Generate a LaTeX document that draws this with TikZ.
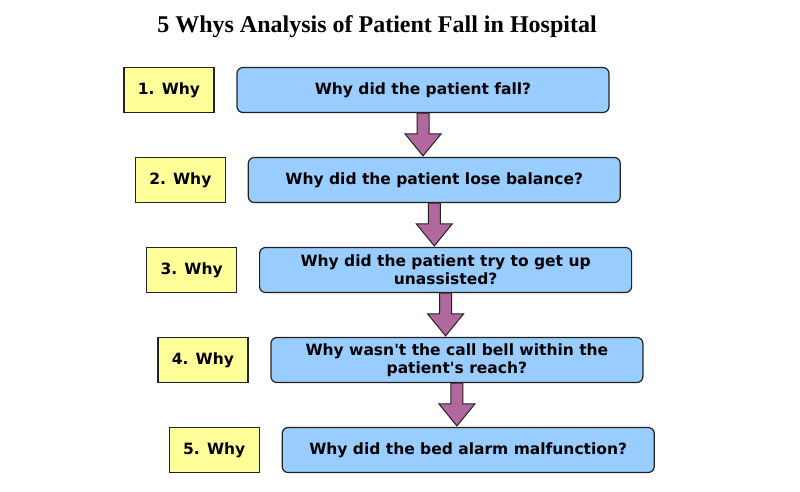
\documentclass[tikz,border=0pt]{standalone}
\usepackage{fontspec}
\setmainfont{DejaVu Sans}
\newfontfamily\titlefont{Liberation Serif}
\usetikzlibrary{positioning}
\definecolor{whyyellow}{HTML}{FFFF99}
\definecolor{qblue}{HTML}{99CCFF}
\definecolor{arrowpurple}{HTML}{B0689E}
\definecolor{edgegray}{HTML}{222222}

\begin{document}
\begin{tikzpicture}[x=1pt,y=-1pt,
	whybox/.style={draw=edgegray,fill=whyyellow,line width=1.2pt,minimum width=90pt,minimum height=45pt,font=\bfseries\fontsize{15.5}{18}\selectfont},
	qbox/.style={draw=edgegray,fill=qblue,line width=1.2pt,rounded corners=6pt,minimum width=372pt,minimum height=45pt,align=center,font=\bfseries\fontsize{15.5}{18}\selectfont},
	downarrow/.style={draw=edgegray,fill=arrowpurple,line width=1pt,line join=miter}]
	\path[use as bounding box] (0,0) rectangle (800,491);
	
	\node[font=\titlefont\bfseries\fontsize{24}{28}\selectfont] (title) at (377,27) {5 Whys Analysis of Patient Fall in Hospital};
	
	\foreach \q [count=\n] in {{Why did the patient fall?},{Why did the patient lose balance?},{Why did the patient try to get up\\unassisted?},{Why wasn\textquotesingle t the call bell within the\\patient\textquotesingle s reach?},{Why did the bed alarm malfunction?}}
	{
		\node[qbox] (Q\n) at ({423+11.3*(\n-1)},{90+90*(\n-1)}) {\q};
		\node[whybox] (W\n) at ({169+11.3*(\n-1)},{90+90*(\n-1)}) {\n. Why};
	}
	
	\foreach \n [count=\m from 2] in {1,...,4}
	{
		\coordinate (top\n) at (Q\n.south);
		\coordinate (tip\n) at ([yshift=1pt]Q\n.south |- Q\m.north);
		\draw[downarrow] ([xshift=-6pt]top\n) -- ([xshift=-6pt,yshift=22pt]tip\n) -- ([xshift=-18pt,yshift=22pt]tip\n) -- (tip\n)
			-- ([xshift=18pt,yshift=22pt]tip\n) -- ([xshift=6pt,yshift=22pt]tip\n) -- ([xshift=6pt]top\n) -- cycle;
	}
\end{tikzpicture}
\end{document}
